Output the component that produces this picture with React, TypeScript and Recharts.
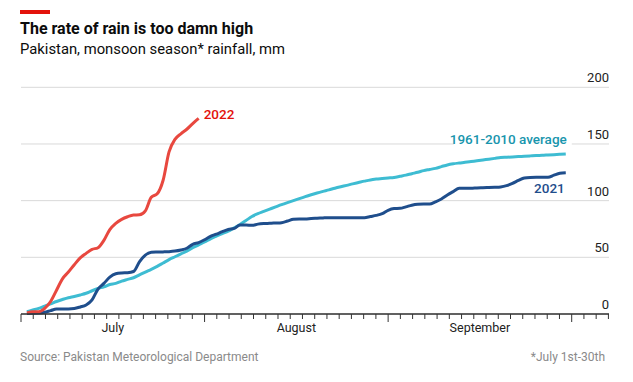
import { LineChart, Line, XAxis, YAxis, CartesianGrid } from 'recharts'

// cumulative monsoon rainfall, mm, by day from July 1st
const AVG = [
  2, 3.5, 5, 7, 9, 11, 12.8, 14.4, 15.5, 16.8,
  18.3, 20.5, 22.5, 24, 26, 27, 29, 30.5, 32, 34.5,
  37, 39.4, 42, 45, 48, 50.5, 53, 55.5, 58.5, 61,
  63.5, 66.3, 68.7, 71, 73, 76, 79, 82.5, 86, 88.5,
  90.5, 92.5, 94.5, 96.5, 98.3, 100, 101.8, 103.5, 105.2, 106.8,
  108.2, 109.5, 111, 112.3, 113.5, 114.8, 116, 117.2, 118.3, 119,
  119.5, 120, 120.5, 121.5, 122.5, 123.8, 125, 126.5, 127.5, 128.5,
  130, 131.5, 132.5, 133.2, 133.8, 134.5, 135.2, 135.9, 136.6, 137.3,
  138, 138.3, 138.6, 138.9, 139.2, 139.5, 139.8, 140, 140.3, 140.6,
  140.9, 141.2,
]
const Y2021 = [
  0.5, 0.6, 0.8, 1.5, 3, 4.4, 4.4, 4.4, 4.8, 6.2,
  8, 12.5, 22, 27, 32.5, 35.5, 36.2, 36.4, 37.5, 46,
  52, 54.5, 54.7, 54.8, 55, 55.5, 56.5, 58, 61.5, 63,
  65.5, 68.5, 70.5, 72.6, 74.5, 75.5, 78.5, 78.5, 78.2, 79.3,
  79.8, 80, 80.3, 80.6, 82, 83.5, 83.8, 83.8, 84.2, 84.5,
  84.8, 85, 85, 85, 85, 85, 85, 85, 86, 87,
  88.5, 91.5, 93, 93.2, 94.5, 96, 96.8, 97, 97, 99,
  101.5, 105, 108, 110.9, 110.9, 110.9, 111.2, 111.4, 111.6, 111.8,
  112.1, 113.2, 115.3, 117.8, 120, 120.5, 120.6, 120.6, 120.6, 122.5,
  124.2, 124.7,
]
const Y2022 = [
  1, 2, 2, 5, 11, 21, 31, 37, 43.5, 49.5,
  53.5, 57, 58.5, 65, 74.5, 80, 83.5, 85.8, 87.3, 87.5,
  91, 103, 106, 118, 143, 154, 159, 163, 168, 172.5,
]

const MONTHS = ['July', 'August', 'September']
const MONTH_MID = [15.5, 46.5, 77.5]
const MONTH_EDGES = [0, 31, 62, 93]
const Y_TICKS = [0, 50, 100, 150, 200]

const rows = AVG.map((avg, i) => ({
  day: i + 1,
  avg,
  y2021: Y2021[i],
  y2022: i < Y2022.length ? Y2022[i] : null,
}))

// 15 small ticks per month
const minorTicks = Array.from({ length: 49 }, (_, i) => (i * 31) / 15)
const xTicks = [...minorTicks, ...MONTH_MID]

const FONT = 'Roboto, sans-serif'
const RED = '#E8483F'
const CYAN = '#3EBCD2'
const NAVY = '#1F4E8C'
const PLOT_RIGHT = 609

function XTick({ x, y, payload }: any) {
  const v = payload.value
  const mi = MONTH_MID.indexOf(v)
  if (mi >= 0) {
    return (
      <text x={x} y={y + 18} textAnchor="middle" fontSize={12.5} fill="#222" fontFamily={FONT}>
        {MONTHS[mi]}
      </text>
    )
  }
  const major = MONTH_EDGES.some(m => Math.abs(m - v) < 0.01)
  return <line x1={x} x2={x} y1={y} y2={y + (major ? 8 : 5)} stroke="#333" strokeWidth={1} />
}

function YTick({ y, payload }: any) {
  return (
    <text x={PLOT_RIGHT} y={y - 5} textAnchor="end" fontSize={13} fill="#222" fontFamily={FONT}>
      {payload.value}
    </text>
  )
}

function endLabel(kind: 'avg' | 'y2021' | 'y2022') {
  const last = kind === 'y2022' ? Y2022.length - 1 : AVG.length - 1
  return (p: any) => {
    const { cx, cy, index } = p
    if (index !== last || cx == null || cy == null) return <g key={`d-${kind}-${index}`} />
    if (kind === 'y2022') {
      return (
        <text key="l22" x={cx + 5} y={cy + 1} fontSize={13.5} fontWeight={500} fill="#E3120B" fontFamily={FONT}>
          2022
        </text>
      )
    }
    if (kind === 'avg') {
      return (
        <g key="lavg">
          <rect x={cx - 112} y={cy - 24} width={118} height={16} fill="#fff" />
          <text x={cx + 1} y={cy - 10} textAnchor="end" fontSize={13.5} fontWeight={500} fill="#1895AD" fontFamily={FONT}>
            1961-2010 average
          </text>
        </g>
      )
    }
    return (
      <text key="l21" x={cx - 1} y={cy + 20.5} textAnchor="end" fontSize={13.5} fontWeight={500} fill={NAVY} fontFamily={FONT}>
        2021
      </text>
    )
  }
}

export default function App() {
  return (
    <div style={{ position: 'absolute', left: 0, top: 0, width: 633, height: 382, background: '#fff' }}>
      <div style={{ position: 'absolute', left: 0, top: 0 }}>
        <LineChart width={633} height={382} data={rows} margin={{ top: 87.3, right: 633 - PLOT_RIGHT, bottom: 67, left: 21 }}>
          <CartesianGrid vertical={false} stroke="#d9d9d9" strokeWidth={1} />
          <XAxis
            dataKey="day"
            type="number"
            domain={[0, 99.3]}
            ticks={xTicks}
            interval={0}
            height={1}
            tickSize={0}
            tickMargin={0}
            tickLine={false}
            axisLine={{ stroke: '#333', strokeWidth: 1.5 }}
            tick={<XTick />}
            allowDataOverflow
          />
          <YAxis
            orientation="right"
            mirror
            domain={[0, 200]}
            ticks={Y_TICKS}
            width={40}
            tickSize={0}
            tickMargin={0}
            tickLine={false}
            axisLine={false}
            tick={<YTick />}
          />
          <Line type="monotone" dataKey="avg" stroke={CYAN} strokeWidth={3} dot={endLabel('avg')} activeDot={false} isAnimationActive={false} />
          <Line type="monotone" dataKey="y2021" stroke={NAVY} strokeWidth={3} dot={endLabel('y2021')} activeDot={false} isAnimationActive={false} />
          <Line type="monotone" dataKey="y2022" stroke={RED} strokeWidth={3} dot={endLabel('y2022')} activeDot={false} isAnimationActive={false} />
        </LineChart>
      </div>
      <svg width={633} height={382} style={{ position: 'absolute', left: 0, top: 0, pointerEvents: 'none' }} fontFamily={FONT}>
        <rect x={20} y={10} width={30} height={4} fill="#E3120B" />
        <text x={20} y={34} fontSize={16} fontWeight={700} fill="#0C0C0C">The rate of rain is too damn high</text>
        <text x={20} y={54} fontSize={14.8} fill="#0C0C0C">Pakistan, monsoon season* rainfall, mm</text>
        <text x={20} y={361} fontSize={12} fill="#8A8A8A">Source: Pakistan Meteorological Department</text>
        <text x={605} y={361} fontSize={12} fill="#8A8A8A" textAnchor="end">*July 1st-30th</text>
      </svg>
    </div>
  )
}
